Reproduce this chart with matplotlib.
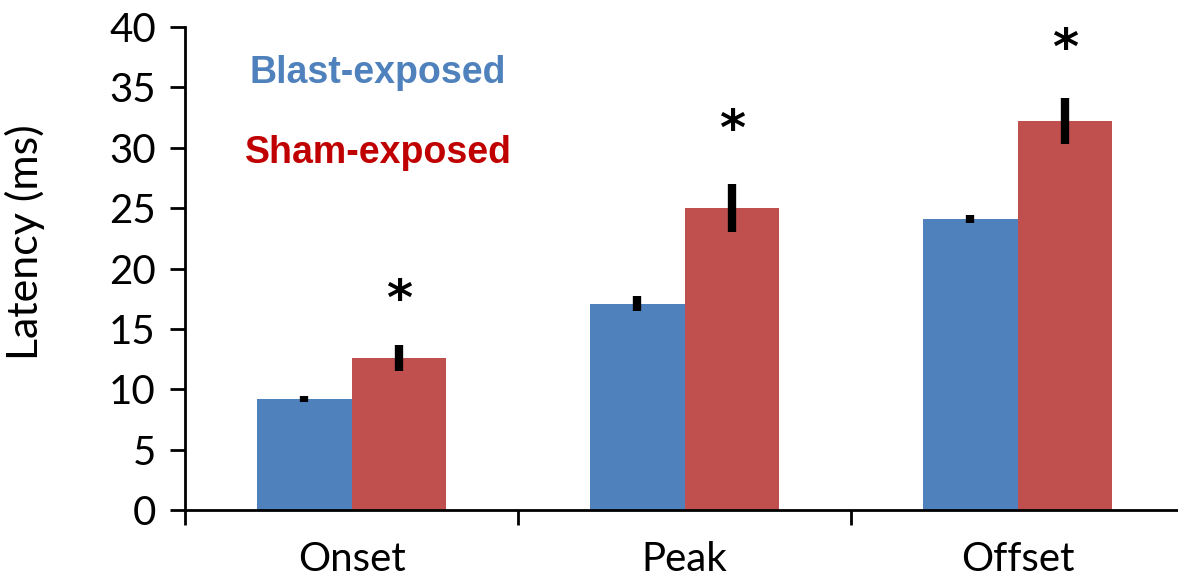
import matplotlib.pyplot as plt
import numpy as np

categories = ["Onset", "Peak", "Offset"]
blast = [9.2, 17.1, 24.1]
blastErr = [0.25, 0.6, 0.35]
sham = [12.6, 25.0, 32.2]
shamErr = [1.1, 2.0, 1.9]
starY = [17.3, 31.4, 38.1]

blue = "#4F81BD"
red = "#C0504D"

plt.rcParams['font.family'] = ['Lato', 'DejaVu Sans']

fig = plt.figure(figsize=(11.78, 5.80), dpi=100)
ax = fig.add_axes([185 / 1178, 70 / 580, 999 / 1178, 483 / 580])

x = np.arange(len(categories))
w = 0.285
err_kw = dict(elinewidth=6, capsize=0, ecolor="black")
ax.bar(x, blast, -w, align="edge", color=blue, linewidth=0,
       yerr=blastErr, error_kw=err_kw)
ax.bar(x, sham, w, align="edge", color=red, linewidth=0,
       yerr=shamErr, error_kw=err_kw)

for i in range(len(categories)):
    ax.text(x[i] + w / 2, starY[i], "*", ha="center", va="center",
            fontsize=36, fontweight="bold", family="DejaVu Sans")

ax.text(0.065, 0.905, "Blast-exposed", transform=ax.transAxes, color=blue,
        fontsize=27, fontweight="bold", family="Liberation Sans", va="center")
ax.text(0.06, 0.74, "Sham-exposed", transform=ax.transAxes, color="#C00000",
        fontsize=27, fontweight="bold", family="Liberation Sans", va="center")

ax.set_xlim(-0.5, 2.5)
ax.set_ylim(0, 40)
ax.set_yticks(range(0, 41, 5))
ax.set_xticks([-0.5, 0.5, 1.5, 2.5])
ax.set_xticklabels([])
ax.set_xticks(x, minor=True)
ax.set_xticklabels(categories, minor=True)
ax.tick_params(axis="x", which="major", direction="out", length=11, width=2)
ax.tick_params(axis="x", which="minor", length=0, pad=22, labelsize=29)
ax.tick_params(axis="y", direction="out", length=11, width=2, labelsize=29, pad=10)
ax.set_ylabel("Latency (ms)", fontsize=31)
ax.yaxis.set_label_coords(-0.14, 0.555)

for s in ["top", "right"]:
    ax.spines[s].set_visible(False)
for s in ["left", "bottom"]:
    ax.spines[s].set_linewidth(2)

fig.savefig("out.png", dpi=100)
